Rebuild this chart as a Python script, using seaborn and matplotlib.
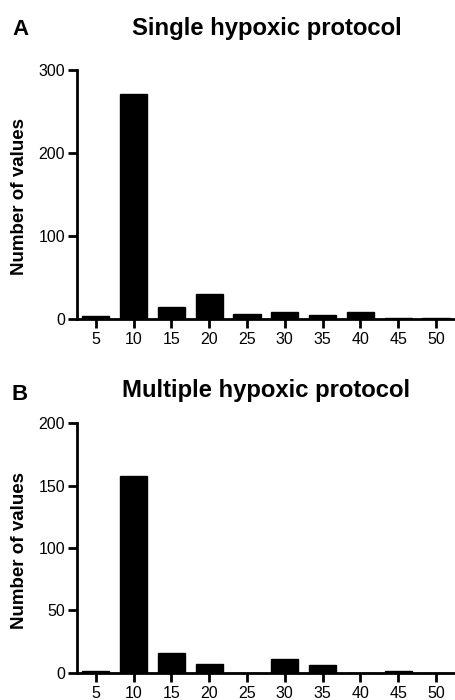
import matplotlib
matplotlib.use("Agg")
import matplotlib.pyplot as plt
import seaborn as sns
import pandas as pd

bins = [5, 10, 15, 20, 25, 30, 35, 40, 45, 50]
single_counts = [4, 271, 14, 30, 6, 8, 5, 8, 1, 1]
multiple_counts = [1, 158, 16, 7, 0, 11, 6, 0, 1, 0]

panel_letters = ["A", "B"]
titles = ["Single hypoxic protocol", "Multiple hypoxic protocol"]
ylabel = "Number of values"
y_ticks = [[0, 100, 200, 300], [0, 50, 100, 150, 200]]
y_max = [300, 200]

sns.set_style("ticks")
plt.rcParams["font.family"] = ["Liberation Sans", "DejaVu Sans"]
plt.rcParams["text.color"] = "black"
plt.rcParams["axes.labelcolor"] = "black"
plt.rcParams["axes.titlecolor"] = "black"
plt.rcParams["xtick.color"] = "black"
plt.rcParams["ytick.color"] = "black"

W, H = 456, 700
fig = plt.figure(figsize=(W / 100, H / 100), dpi=100)

# axes boxes in pixels: (left, top, right, bottom)
boxes = [(77, 70, 456, 319), (77, 423.3, 456, 672.7)]
title_pads = [25, 19]
letter_baselines = [35, 400]

for i, counts in enumerate([single_counts, multiple_counts]):
    l, t, r, b = boxes[i]
    ax = fig.add_axes([l / W, 1 - b / H, (r - l) / W, (b - t) / H])
    df = pd.DataFrame({"bin": [str(v) for v in bins], "count": counts})
    sns.barplot(data=df, x="bin", y="count", color="black", saturation=1,
                width=0.72, edgecolor="black", linewidth=1, ax=ax)
    ax.set_xlim(-0.495, 9.53)
    ax.set_ylim(0, y_max[i])
    ax.set_yticks(y_ticks[i])
    ax.set_xlabel("")
    ax.set_ylabel(ylabel, fontsize=13.5, fontweight="bold", color="black")
    ax.yaxis.label.set_va("center")
    ax.yaxis.set_label_coords((19.5 - l) / (r - l), 0.49)
    ax.set_title(titles[i], fontsize=17.2, fontweight="bold", pad=title_pads[i],
                 color="black")
    for s in ["top", "right"]:
        ax.spines[s].set_visible(False)
    for s in ["left", "bottom"]:
        ax.spines[s].set_linewidth(2.0)
        ax.spines[s].set_color("black")
    ax.tick_params(axis="both", width=2.0, length=6.5, color="black",
                   labelsize=11.5, labelcolor="black")
    ax.tick_params(axis="y", pad=2)
    ax.tick_params(axis="x", pad=3)
    ax.set_facecolor("white")
    fig.text(12 / W, 1 - letter_baselines[i] / H, panel_letters[i],
             fontsize=16, fontweight="bold", ha="left", va="baseline",
             color="black")

fig.savefig("out.png", dpi=100, facecolor="white")
